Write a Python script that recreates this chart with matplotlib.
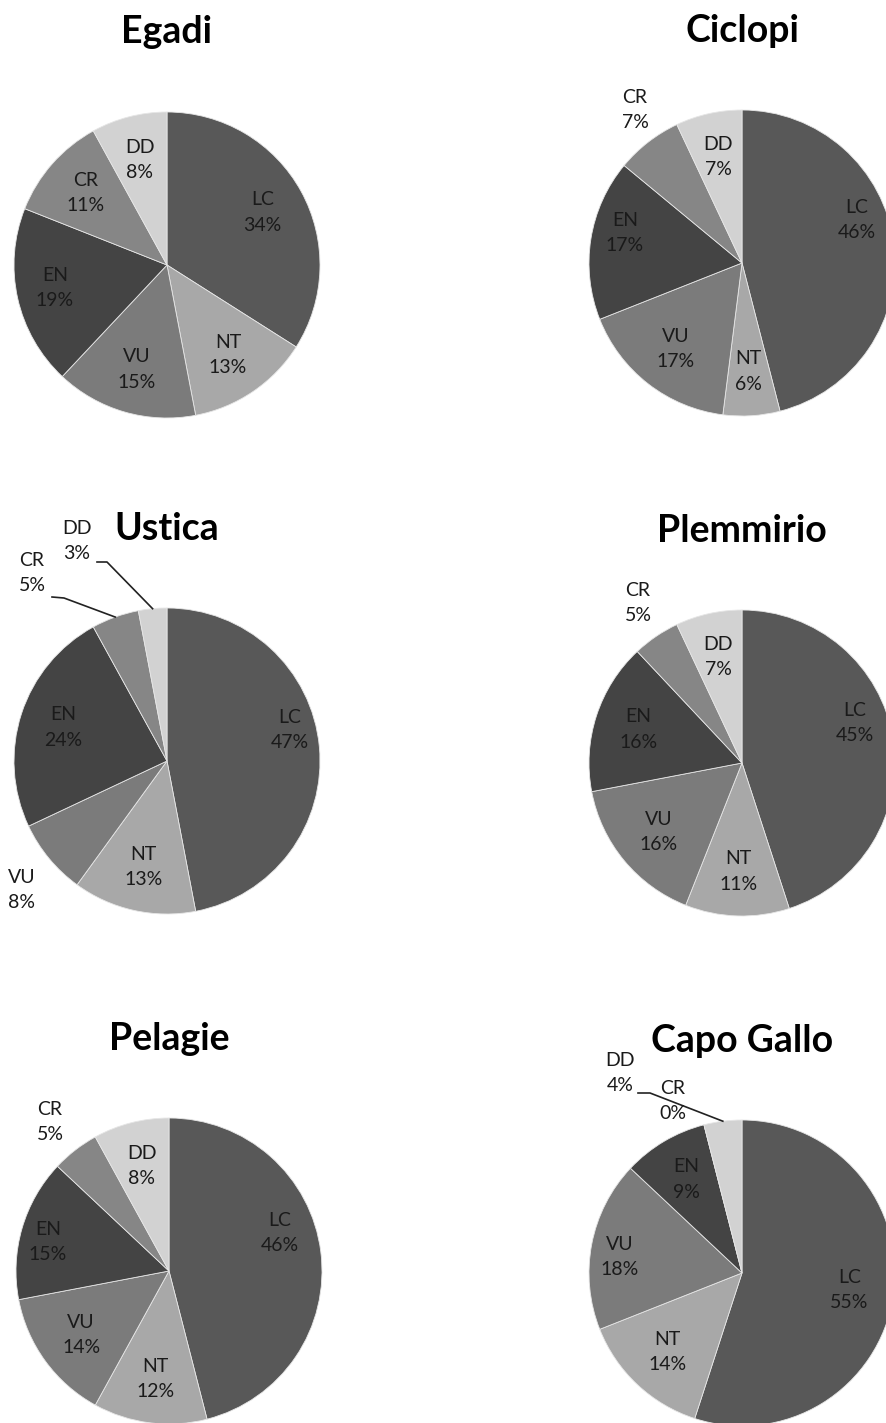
import numpy as np
import matplotlib
matplotlib.use("Agg")
import matplotlib.pyplot as plt

# Conservation status share (%) per marine protected area
categories = ["LC", "NT", "VU", "EN", "CR", "DD"]
areas = ["Egadi", "Ciclopi", "Ustica", "Plemmirio", "Pelagie", "Capo Gallo"]
egadi = [34, 13, 15, 19, 11, 8]
ciclopi = [46, 6, 17, 17, 7, 7]
ustica = [47, 13, 8, 24, 5, 3]
plemmirio = [45, 11, 16, 16, 5, 7]
pelagie = [46, 12, 14, 15, 5, 8]
capo_gallo = [55, 14, 18, 9, 0, 4]
series = [egadi, ciclopi, ustica, plemmirio, pelagie, capo_gallo]

colors = ["#585858", "#a8a8a8", "#7b7b7b", "#444444", "#868686", "#d2d2d2"]

W, H = 886, 1423
R = 153
# pie centres and title baselines, in pixels from the top-left corner
centres = [(167, 265), (742, 263), (167, 761), (742, 763), (169, 1271), (742, 1273)]
title_y = [43, 42, 540, 542, 1050, 1052]

# labels that sit away from the default radial spot: (dx, dy up) in pixels
label_shift = {
    ("Egadi", "EN"): (-112, -23),
    ("Ciclopi", "LC"): (115, 43),
    ("Ciclopi", "EN"): (-117, 30),
    ("Ciclopi", "CR"): (-107, 153),
    ("Ustica", "LC"): (123, 31),
    ("Ustica", "VU"): (-145, -129),
    ("Ustica", "CR"): (-135, 188),
    ("Ustica", "DD"): (-90, 220),
    ("Plemmirio", "LC"): (113, 40),
    ("Plemmirio", "CR"): (-104, 160),
    ("Pelagie", "LC"): (111, 38),
    ("Pelagie", "EN"): (-121, 29),
    ("Pelagie", "CR"): (-119, 149),
    ("Capo Gallo", "VU"): (-122, 16),
    ("Capo Gallo", "DD"): (-122, 200),
    ("Capo Gallo", "CR"): (-69, 172),
}
# leader lines: label end and elbow in pixels, the far end sits on the wedge rim
leaders = {
    ("Ustica", "CR"): [(52, 597), (64, 598)],
    ("Ustica", "DD"): [(97, 562), (107, 562)],
    ("Capo Gallo", "DD"): [(638, 1093), (650, 1093)],
}

fig = plt.figure(figsize=(W / 100, H / 100), dpi=100)
ax = fig.add_axes([0, 0, 1, 1])
ax.set_xlim(0, W)
ax.set_ylim(0, H)
ax.set_aspect("equal")
ax.axis("off")

for name, vals, (cx, cy), ty in zip(areas, series, centres, title_y):
    cy = H - cy
    ax.pie(vals, colors=colors, startangle=90, counterclock=False,
           center=(cx, cy), radius=R, frame=True,
           wedgeprops=dict(edgecolor="#e6e6e6", linewidth=0.6))
    ax.text(cx, H - ty, name, ha="center", va="baseline", fontsize=27,
            fontweight="bold", family="Lato", color="black")

    total = float(sum(vals))
    start = 0.0
    for cat, v in zip(categories, vals):
        mid = (start + v / 2.0) / total * 2 * np.pi
        start += v
        dx, dy = np.sin(mid), np.cos(mid)
        if (name, cat) in label_shift:
            ox, oy = label_shift[(name, cat)]
            lx, ly = cx + ox, cy + oy
        else:
            lx, ly = cx + 0.71 * R * dx, cy + 0.71 * R * dy
        ax.text(lx, ly, "%s\n%d%%" % (cat, v), ha="center", va="center",
                fontsize=14, family="Lato", color="#1a1a1a", linespacing=1.6)
        if (name, cat) in leaders:
            pts = [(x, H - y) for x, y in leaders[(name, cat)]]
            pts.append((cx + R * dx, cy + R * dy))
            xs, ys = zip(*pts)
            ax.plot(xs, ys, color="#222222", lw=1.2)

ax.set_xlim(0, W)
ax.set_ylim(0, H)
fig.savefig("out.png", dpi=100, facecolor="white")
